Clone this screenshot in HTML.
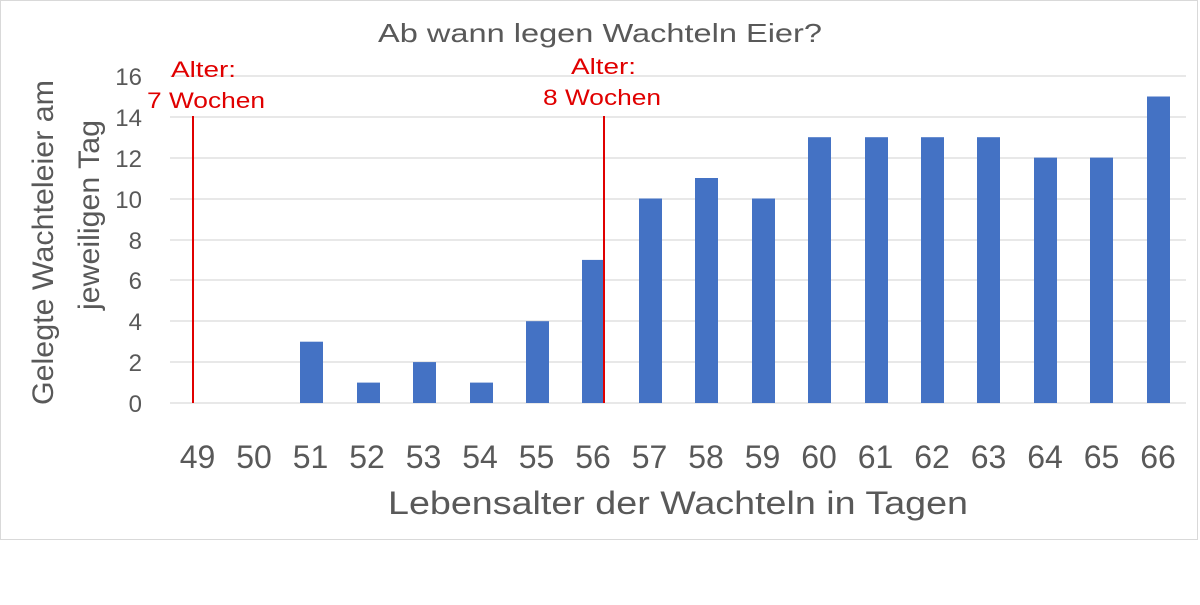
<!DOCTYPE html>
<html><head><meta charset="utf-8"><style>body{margin:0;background:#fff}</style></head><body>
<svg width="1200" height="600" xmlns="http://www.w3.org/2000/svg" font-family="Liberation Sans, sans-serif">
<rect x="0.5" y="0.5" width="1197" height="539" fill="#fff" stroke="#d9d9d9"/>
<text x="378" y="42" font-size="26" fill="#595959" textLength="444" lengthAdjust="spacingAndGlyphs">Ab wann legen Wachteln Eier?</text>
<g stroke="#d9d9d9" stroke-width="1.3">
<line x1="170" x2="1186" y1="76" y2="76"/><line x1="170" x2="1186" y1="117" y2="117"/><line x1="170" x2="1186" y1="158" y2="158"/><line x1="170" x2="1186" y1="199" y2="199"/><line x1="170" x2="1186" y1="240" y2="240"/><line x1="170" x2="1186" y1="280" y2="280"/><line x1="170" x2="1186" y1="321" y2="321"/><line x1="170" x2="1186" y1="362" y2="362"/><line x1="170" x2="1186" y1="403" y2="403"/>
</g>
<g font-size="24" fill="#595959" text-anchor="end">
<text x="142" y="85">16</text><text x="142" y="126">14</text><text x="142" y="167">12</text><text x="142" y="208">10</text><text x="142" y="249">8</text><text x="142" y="289">6</text><text x="142" y="330">4</text><text x="142" y="371">2</text><text x="142" y="412">0</text>
</g>
<g fill="#4472c4">
<rect x="300" y="341.7" width="23" height="61.3"/>
<rect x="357" y="382.6" width="23" height="20.4"/>
<rect x="413" y="362.1" width="23" height="40.9"/>
<rect x="470" y="382.6" width="23" height="20.4"/>
<rect x="526" y="321.2" width="23" height="81.8"/>
<rect x="582" y="259.9" width="23" height="143.1"/>
<rect x="639" y="198.5" width="23" height="204.5"/>
<rect x="695" y="178" width="23" height="225"/>
<rect x="752" y="198.5" width="23" height="204.5"/>
<rect x="808" y="137.2" width="23" height="265.8"/>
<rect x="865" y="137.2" width="23" height="265.8"/>
<rect x="921" y="137.2" width="23" height="265.8"/>
<rect x="977" y="137.2" width="23" height="265.8"/>
<rect x="1034" y="157.6" width="23" height="245.4"/>
<rect x="1090" y="157.6" width="23" height="245.4"/>
<rect x="1147" y="96.5" width="23" height="306.5"/>
</g>
<g stroke="#e00000" stroke-width="2"><line x1="193" y1="116" x2="193" y2="403"/><line x1="604" y1="116" x2="604" y2="403"/></g>
<g font-size="22" fill="#e00000" lengthAdjust="spacingAndGlyphs">
<text x="171" y="77" textLength="65" lengthAdjust="spacingAndGlyphs">Alter:</text><text x="147" y="108" textLength="118" lengthAdjust="spacingAndGlyphs">7 Wochen</text>
<text x="571" y="74" textLength="65" lengthAdjust="spacingAndGlyphs">Alter:</text><text x="543" y="105" textLength="118" lengthAdjust="spacingAndGlyphs">8 Wochen</text>
</g>
<g font-size="32" fill="#595959" text-anchor="middle">
<text x="197.5" y="468">49</text><text x="254" y="468">50</text><text x="310.5" y="468">51</text><text x="367" y="468">52</text><text x="423.5" y="468">53</text><text x="480" y="468">54</text><text x="536.5" y="468">55</text><text x="593" y="468">56</text><text x="649.5" y="468">57</text><text x="706" y="468">58</text><text x="762.5" y="468">59</text><text x="819" y="468">60</text><text x="875.5" y="468">61</text><text x="932" y="468">62</text><text x="988.5" y="468">63</text><text x="1045" y="468">64</text><text x="1101.5" y="468">65</text><text x="1158" y="468">66</text>
</g>
<text x="388" y="514" font-size="32" fill="#595959" textLength="580" lengthAdjust="spacingAndGlyphs">Lebensalter der Wachteln in Tagen</text>
<g font-size="30" fill="#595959">
<text transform="translate(53,405) rotate(-90)" textLength="325" lengthAdjust="spacingAndGlyphs">Gelegte Wachteleier am</text>
<text transform="translate(99,310) rotate(-90)" textLength="190" lengthAdjust="spacingAndGlyphs">jeweiligen Tag</text>
</g>
</svg>
</body></html>
